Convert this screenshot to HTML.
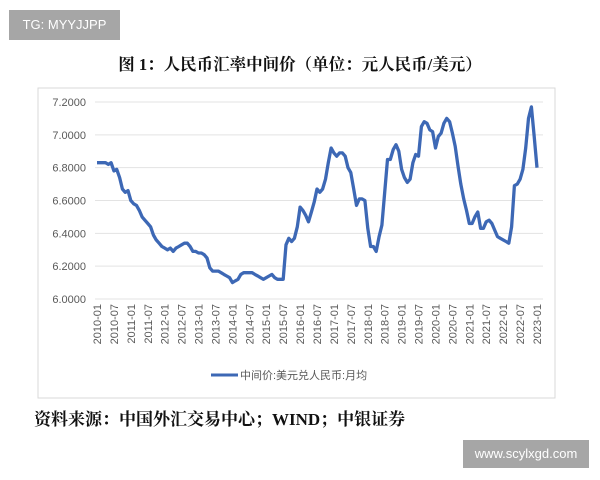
<!DOCTYPE html>
<html><head><meta charset="utf-8">
<style>
body{margin:0;width:600px;height:480px;background:#fff;position:relative;overflow:hidden;font-family:"Liberation Sans","Noto Sans CJK SC",sans-serif}
.wm1{position:absolute;left:9px;top:10px;width:111px;height:30px;background:#a6a6a6;color:#fff;font-size:13px;line-height:30px;text-align:center}
.wm2{position:absolute;left:463px;top:440px;width:126px;height:28px;background:#a6a6a6;color:#fff;font-size:13px;line-height:28px;text-align:center}
.title{position:absolute;left:0;width:600px;top:51px;text-align:center;font-family:"Liberation Serif","Noto Serif CJK SC",serif;font-weight:bold;font-size:16.5px;color:#111}
.src{position:absolute;left:34px;top:405px;font-family:"Liberation Serif","Noto Serif CJK SC",serif;font-weight:bold;font-size:17px;color:#111}
</style></head><body>
<div class="wm1">TG: MYYJJPP</div>
<div class="title">图 1：人民币汇率中间价（单位：元人民币/美元）</div>
<svg id="chart" width="600" height="480" style="position:absolute;left:0;top:0"></svg>
<div class="src">资料来源：中国外汇交易中心；WIND；中银证券</div>
<div class="wm2">www.scylxgd.com</div>
<script>
const yTicks=[6.0,6.2,6.4,6.6,6.8,7.0,7.2];
const years=[2010,2011,2012,2013,2014,2015,2016,2017,2018,2019,2020,2021,2022,2023];
const values=[
6.83,6.83,6.83,6.83,6.82,6.83,6.78,6.79,6.74,6.67,6.65,6.66,
6.60,6.58,6.57,6.54,6.50,6.48,6.46,6.44,6.39,6.36,6.34,6.32,
6.31,6.30,6.31,6.29,6.31,6.32,6.33,6.34,6.34,6.32,6.29,6.29,
6.28,6.28,6.27,6.25,6.19,6.17,6.17,6.17,6.16,6.15,6.14,6.13,
6.10,6.11,6.12,6.15,6.16,6.16,6.16,6.16,6.15,6.14,6.13,6.12,
6.13,6.14,6.15,6.13,6.12,6.12,6.12,6.33,6.37,6.35,6.37,6.44,
6.56,6.54,6.51,6.47,6.53,6.59,6.67,6.65,6.67,6.73,6.83,6.92,
6.89,6.87,6.89,6.89,6.87,6.80,6.77,6.67,6.57,6.61,6.61,6.60,
6.43,6.32,6.32,6.29,6.38,6.45,6.65,6.85,6.85,6.91,6.94,6.90,
6.79,6.74,6.71,6.73,6.83,6.88,6.87,7.05,7.08,7.07,7.03,7.02,
6.92,6.99,7.01,7.07,7.10,7.08,7.01,6.93,6.81,6.70,6.61,6.54,
6.46,6.46,6.50,6.53,6.43,6.43,6.47,6.48,6.46,6.42,6.38,6.37,
6.36,6.35,6.34,6.44,6.69,6.70,6.73,6.79,6.92,7.10,7.17,6.99,
6.80];
const seriesName="中间价:美元兑人民币:月均";
const NS="http://www.w3.org/2000/svg";
const svg=document.getElementById('chart');
const X0=97,X1=537,Y0=299,Y1=102;
const n=values.length-1;
function xs(i){return X0+(X1-X0)*i/n;}
function ys(v){return Y0-(v-6.0)/(7.2-6.0)*(Y0-Y1);}
function mk(t,a,txt){const e=document.createElementNS(NS,t);for(const k in a)e.setAttribute(k,a[k]);if(txt!==undefined)e.textContent=txt;svg.appendChild(e);return e;}
const box=mk('rect',{x:38,y:88,width:517,height:310,fill:'none',stroke:'#d9d9d9','stroke-width':1});


yTicks.forEach(v=>{
  const g=mk('line',{x1:X0-2,x2:X1+6,y1:ys(v),y2:ys(v),stroke:'#e3e3e3','stroke-width':1});
  
  
  const t=mk('text',{x:86,y:ys(v)+4,'text-anchor':'end','font-size':11,fill:'#595959'},v.toFixed(4));
  
  
});
for(let i=0;i<=n;i+=6){
  const yr=years[Math.floor(i/12)];
  const lab=yr+'-'+(i%12===0?'01':'07');
  const x=xs(i);
  const t=mk('text',{x:0,y:0,'text-anchor':'end','font-size':11,fill:'#595959',transform:`translate(${x+4},304) rotate(-90)`},lab);
  
  
}
let d='';values.forEach((v,i)=>{d+=(i?'L':'M')+xs(i).toFixed(1)+','+ys(v).toFixed(1);});
const p=mk('path',{d:d,fill:'none',stroke:'#3d68b5','stroke-width':3.3,'stroke-linejoin':'round'});


const ll=mk('line',{x1:211,x2:238,y1:375,y2:375,stroke:'#3d68b5','stroke-width':3});


const lt=mk('text',{x:240,y:379,'font-size':11,fill:'#595959'},seriesName);


</script>
</body></html>
